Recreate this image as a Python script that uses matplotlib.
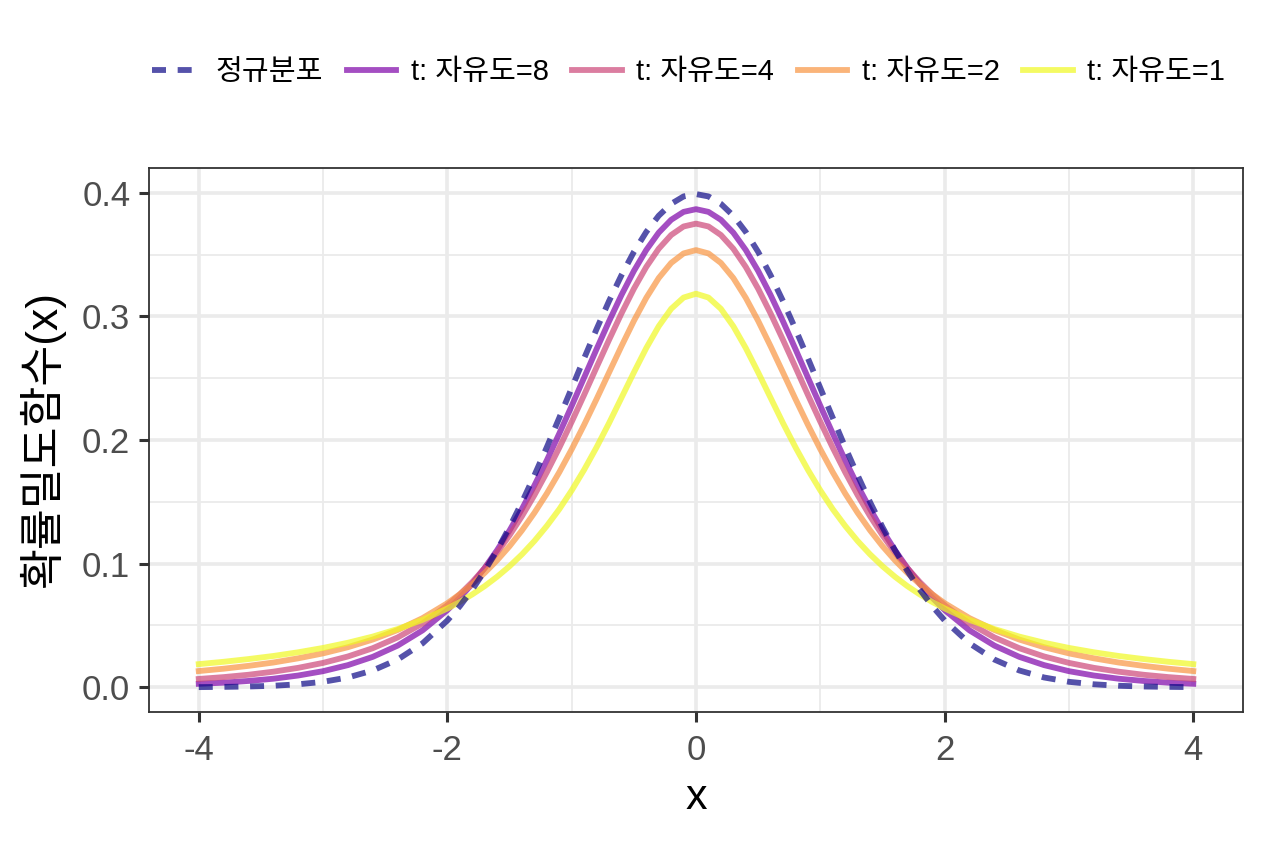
import matplotlib
matplotlib.use("Agg")
import matplotlib.pyplot as plt
from matplotlib.ticker import MultipleLocator

plt.rcParams['font.family'] = ['Liberation Sans', 'Noto Sans CJK KR', 'DejaVu Sans']

# x grid: read every 0.2 in the tails, every 0.1 between -2 and 2
x_vals = [-4.0, -3.8, -3.6, -3.4, -3.2, -3.0, -2.8, -2.6, -2.4, -2.2,
          -2.0, -1.9, -1.8, -1.7, -1.6, -1.5, -1.4, -1.3, -1.2, -1.1,
          -1.0, -0.9, -0.8, -0.7, -0.6, -0.5, -0.4, -0.3, -0.2, -0.1, 0.0,
          0.1, 0.2, 0.3, 0.4, 0.5, 0.6, 0.7, 0.8, 0.9, 1.0,
          1.1, 1.2, 1.3, 1.4, 1.5, 1.6, 1.7, 1.8, 1.9, 2.0,
          2.2, 2.4, 2.6, 2.8, 3.0, 3.2, 3.4, 3.6, 3.8, 4.0]

normal = [0.0001, 0.0003, 0.0006, 0.0012, 0.0024, 0.0044, 0.0079, 0.0136, 0.0224, 0.0355,
          0.0540, 0.0656, 0.0790, 0.0941, 0.1109, 0.1295, 0.1497, 0.1714, 0.1942, 0.2179,
          0.2420, 0.2661, 0.2897, 0.3123, 0.3332, 0.3521, 0.3683, 0.3814, 0.3910, 0.3970, 0.3989,
          0.3970, 0.3910, 0.3814, 0.3683, 0.3521, 0.3332, 0.3123, 0.2897, 0.2661, 0.2420,
          0.2179, 0.1942, 0.1714, 0.1497, 0.1295, 0.1109, 0.0941, 0.0790, 0.0656, 0.0540,
          0.0355, 0.0224, 0.0136, 0.0079, 0.0044, 0.0024, 0.0012, 0.0006, 0.0003, 0.0001]

t_df8 = [0.0028, 0.0037, 0.0051, 0.0069, 0.0095, 0.0130, 0.0179, 0.0246, 0.0337, 0.0460,
         0.0624, 0.0724, 0.0837, 0.0965, 0.1109, 0.1268, 0.1443, 0.1632, 0.1836, 0.2052,
         0.2276, 0.2505, 0.2735, 0.2959, 0.3172, 0.3367, 0.3537, 0.3677, 0.3781, 0.3845, 0.3867,
         0.3845, 0.3781, 0.3677, 0.3537, 0.3367, 0.3172, 0.2959, 0.2735, 0.2505, 0.2276,
         0.2052, 0.1836, 0.1632, 0.1443, 0.1268, 0.1109, 0.0965, 0.0837, 0.0724, 0.0624,
         0.0460, 0.0337, 0.0246, 0.0179, 0.0130, 0.0095, 0.0069, 0.0051, 0.0037, 0.0028]

t_df4 = [0.0067, 0.0082, 0.0101, 0.0126, 0.0157, 0.0197, 0.0249, 0.0316, 0.0403, 0.0516,
         0.0663, 0.0751, 0.0851, 0.0963, 0.1089, 0.1229, 0.1384, 0.1554, 0.1739, 0.1937,
         0.2147, 0.2365, 0.2588, 0.2809, 0.3023, 0.3223, 0.3400, 0.3547, 0.3658, 0.3727, 0.3750,
         0.3727, 0.3658, 0.3547, 0.3400, 0.3223, 0.3023, 0.2809, 0.2588, 0.2365, 0.2147,
         0.1937, 0.1739, 0.1554, 0.1384, 0.1229, 0.1089, 0.0963, 0.0851, 0.0751, 0.0663,
         0.0516, 0.0403, 0.0316, 0.0249, 0.0197, 0.0157, 0.0126, 0.0101, 0.0082, 0.0067]

t_df2 = [0.0131, 0.0150, 0.0173, 0.0200, 0.0234, 0.0274, 0.0324, 0.0386, 0.0463, 0.0559,
         0.0680, 0.0753, 0.0834, 0.0925, 0.1027, 0.1141, 0.1269, 0.1411, 0.1567, 0.1739,
         0.1925, 0.2123, 0.2331, 0.2545, 0.2758, 0.2963, 0.3150, 0.3310, 0.3432, 0.3509, 0.3536,
         0.3509, 0.3432, 0.3310, 0.3150, 0.2963, 0.2758, 0.2545, 0.2331, 0.2123, 0.1925,
         0.1739, 0.1567, 0.1411, 0.1269, 0.1141, 0.1027, 0.0925, 0.0834, 0.0753, 0.0680,
         0.0559, 0.0463, 0.0386, 0.0324, 0.0274, 0.0234, 0.0200, 0.0173, 0.0150, 0.0131]

t_df1 = [0.0187, 0.0206, 0.0228, 0.0253, 0.0283, 0.0318, 0.0360, 0.0410, 0.0471, 0.0545,
         0.0637, 0.0690, 0.0751, 0.0818, 0.0894, 0.0979, 0.1075, 0.1183, 0.1305, 0.1440,
         0.1592, 0.1759, 0.1941, 0.2136, 0.2341, 0.2546, 0.2744, 0.2920, 0.3061, 0.3152, 0.3183,
         0.3152, 0.3061, 0.2920, 0.2744, 0.2546, 0.2341, 0.2136, 0.1941, 0.1759, 0.1592,
         0.1440, 0.1305, 0.1183, 0.1075, 0.0979, 0.0894, 0.0818, 0.0751, 0.0690, 0.0637,
         0.0545, 0.0471, 0.0410, 0.0360, 0.0318, 0.0283, 0.0253, 0.0228, 0.0206, 0.0187]

labels = ['정규분포', 't: 자유도=8', 't: 자유도=4', 't: 자유도=2', 't: 자유도=1']
colors = ['#0D0887', '#7E03A8', '#CC4678', '#F89441', '#F0F921']
series = [normal, t_df8, t_df4, t_df2, t_df1]

fig = plt.figure(figsize=(12.64, 8.48), dpi=100)
ax = fig.add_axes([0.1179, 0.1604, 0.8655, 0.6415])

# t curves first, dashed normal on top
for ys, c, lab in list(zip(series, colors, labels))[1:]:
    ax.plot(x_vals, ys, color=c, alpha=0.7, lw=4.2, label=lab, zorder=3)
ax.plot(x_vals, normal, color=colors[0], alpha=0.7, lw=4.2, ls=(0, (2.4, 2.0)),
        label=labels[0], zorder=4)

ax.set_xlim(-4.4, 4.4)
ax.set_ylim(-0.02, 0.42)
ax.xaxis.set_minor_locator(MultipleLocator(1))
ax.yaxis.set_minor_locator(MultipleLocator(0.05))
ax.set_yticks([0.0, 0.1, 0.2, 0.3, 0.4])
ax.set_yticklabels(['0.0', '0.1', '0.2', '0.3', '0.4'])
ax.set_xticks([-4, -2, 0, 2, 4])
ax.set_xticklabels(['-4', '-2', '0', '2', '4'])

ax.grid(which='major', color='#ebebeb', lw=2.6, zorder=0)
ax.grid(which='minor', color='#ebebeb', lw=1.3, zorder=0)
ax.set_axisbelow(True)
for s in ax.spines.values():
    s.set_color('#333333')
    s.set_linewidth(1.3)
ax.tick_params(which='major', length=7.5, width=2.2, color='#333333',
               labelsize=25, labelcolor='#4d4d4d')
ax.tick_params(axis='x', which='major', pad=8)
ax.tick_params(axis='y', which='major', pad=6)
ax.tick_params(which='minor', length=0)

ax.set_xlabel('x', fontsize=31, labelpad=8)
ax.set_ylabel('확률밀도함수(x)', fontsize=32, labelpad=12)

handles, labs = ax.get_legend_handles_labels()
order = [labs.index(l) for l in labels]
fig.legend([handles[i] for i in order], [labs[i] for i in order],
           loc='center right', bbox_to_anchor=(0.99, 0.915), ncol=5, frameon=False,
           fontsize=21, handlelength=1.7, handletextpad=0.5, columnspacing=0.8)

fig.savefig('out.png', dpi=100, facecolor='white')
